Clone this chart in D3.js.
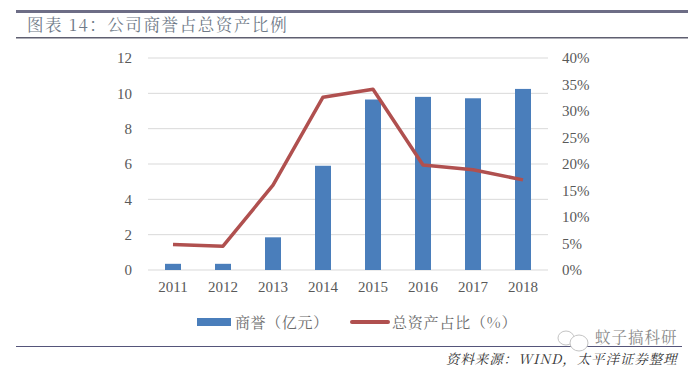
<!DOCTYPE html>
<html>
<head>
<meta charset="utf-8">
<script src="https://cdn.jsdelivr.net/npm/d3@7"></script>
<style>
  body { margin: 0; background: #fff; }
  text { font-family: "Liberation Serif", "Noto Sans CJK SC", serif; }
</style>
</head>
<body>
<div id="chart"></div>
<script>
// values
const years = ["2011", "2012", "2013", "2014", "2015", "2016", "2017", "2018"];
const goodwill = [0.35, 0.35, 1.85, 5.9, 9.65, 9.8, 9.72, 10.25];
const shareOfAssets = [4.8, 4.5, 16, 32.6, 34.1, 19.8, 18.9, 17];
const leftTicks = [0, 2, 4, 6, 8, 10, 12];
const rightTicks = [0, 5, 10, 15, 20, 25, 30, 35, 40];

const width = 700;
const height = 372;
const cjk = '"Noto Serif CJK SC", "Noto Sans CJK SC", sans-serif';

const svg = d3.select("#chart").append("svg")
  .attr("width", width)
  .attr("height", height)
  .style("display", "block");

// Scales
const xScale = d3.scaleBand().domain(years).range([148, 548]);
const yLeft = d3.scaleLinear().domain([0, 12]).range([270, 58]);
const yRight = d3.scaleLinear().domain([0, 40]).range([270, 58]);

// Header and footer rules
svg.append("rect").attr("x", 16).attr("y", 10).attr("width", 672).attr("height", 3).attr("fill", "#6d6d86");
svg.append("rect").attr("x", 16).attr("y", 37).attr("width", 672).attr("height", 1.5).attr("fill", "#5f5f70");
svg.append("rect").attr("x", 16).attr("y", 346).attr("width", 666).attr("height", 1).attr("fill", "#55557a");

svg.append("text")
  .attr("x", 27).attr("y", 31)
  .attr("font-size", 16.5)
  .attr("letter-spacing", 1.6)
  .attr("fill", "#6f7a88")
  .style("font-family", cjk)
  .text("图表 14：公司商誉占总资产比例");

// Gridlines
svg.append("g").selectAll("line")
  .data(leftTicks)
  .enter().append("line")
  .attr("x1", 148).attr("x2", 548)
  .attr("y1", d => yLeft(d)).attr("y2", d => yLeft(d))
  .attr("stroke", "#d9d9d9")
  .attr("stroke-width", 1);

// Axes
const axisLeft = svg.append("g")
  .attr("transform", "translate(148, 0)")
  .call(d3.axisLeft(yLeft).tickValues(leftTicks).tickSize(0).tickPadding(16));

const axisRight = svg.append("g")
  .attr("transform", "translate(548, 0)")
  .call(d3.axisRight(yRight).tickValues(rightTicks).tickSize(0).tickPadding(14).tickFormat(d => d + "%"));

const axisBottom = svg.append("g")
  .attr("transform", "translate(0, 270)")
  .call(d3.axisBottom(xScale).tickSize(0).tickPadding(11));

[axisLeft, axisRight, axisBottom].forEach(axis => {
  axis.select(".domain").remove();
  axis.selectAll("text").attr("font-size", 15).attr("fill", "#595959");
});

// Bars
const barWidth = 16;
svg.append("g").selectAll("rect")
  .data(years)
  .enter().append("rect")
  .attr("x", d => xScale(d) + xScale.bandwidth() / 2 - barWidth / 2)
  .attr("y", (d, i) => yLeft(goodwill[i]))
  .attr("width", barWidth)
  .attr("height", (d, i) => yLeft(0) - yLeft(goodwill[i]))
  .attr("fill", "#4a7ebb");

// Line
const line = d3.line()
  .x(d => xScale(d) + xScale.bandwidth() / 2)
  .y((d, i) => yRight(shareOfAssets[i]));

svg.append("path")
  .attr("d", line(years))
  .attr("fill", "none")
  .attr("stroke", "#b0504f")
  .attr("stroke-width", 3.5)
  .attr("stroke-linejoin", "round");

// Legend
svg.append("rect").attr("x", 197).attr("y", 318).attr("width", 34).attr("height", 8).attr("fill", "#4a7ebb");
svg.append("text")
  .attr("x", 235).attr("y", 328)
  .attr("font-size", 15)
  .attr("letter-spacing", 0.6)
  .attr("fill", "#6b6b6b")
  .style("font-family", cjk)
  .text("商誉（亿元）");
svg.append("line")
  .attr("x1", 352).attr("x2", 388).attr("y1", 322).attr("y2", 322)
  .attr("stroke", "#b0504f").attr("stroke-width", 4).attr("stroke-linecap", "round");
svg.append("text")
  .attr("x", 392).attr("y", 328)
  .attr("font-size", 15)
  .attr("letter-spacing", 0.8)
  .attr("fill", "#6b6b6b")
  .style("font-family", cjk)
  .text("总资产占比（%）");

// Watermark
const mark = svg.append("g").attr("fill", "#fff").attr("stroke", "#c4c4c4").attr("stroke-width", 1);
mark.append("ellipse").attr("cx", 566).attr("cy", 338).attr("rx", 8).attr("ry", 7);
mark.append("ellipse").attr("cx", 579).attr("cy", 343).attr("rx", 9).attr("ry", 8);
svg.append("text")
  .attr("x", 595).attr("y", 343)
  .attr("font-size", 15.5)
  .attr("letter-spacing", 1)
  .attr("fill", "#8a8a8a")
  .style("font-family", cjk)
  .text("蚊子搞科研");

// Source note
svg.append("text")
  .attr("x", 446).attr("y", 364)
  .attr("font-size", 13.5)
  .attr("font-style", "italic")
  .attr("letter-spacing", 0.9)
  .attr("fill", "#333")
  .style("font-family", cjk)
  .text("资料来源：WIND，太平洋证券整理");
</script>
</body>
</html>
